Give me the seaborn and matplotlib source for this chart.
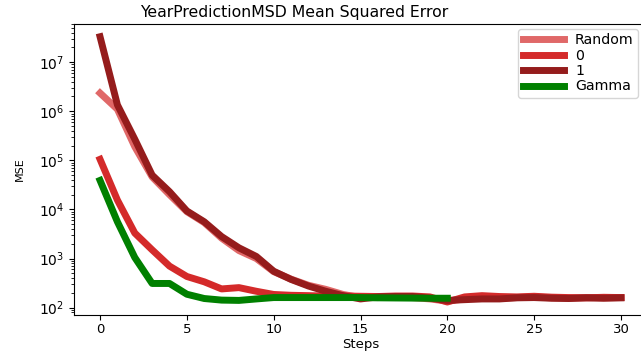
import numpy as np
import pandas as pd
import matplotlib
matplotlib.use("Agg")
import matplotlib.pyplot as plt
import seaborn as sns

steps = list(range(31))
gamma_steps = list(range(21))

random_mse = [2.35e6, 1.1e6, 1.9e5, 4.6e4, 2.0e4, 9.0e3, 5.4e3, 2.6e3, 1.45e3, 1.0e3,
              540, 380, 285, 235, 185, 160, 160, 165, 160, 150,
              135, 150, 160, 155, 160, 165, 158, 155, 160, 158, 160]
zero_mse = [1.05e5, 1.55e4, 3.3e3, 1.5e3, 700, 430, 335, 240, 255, 215,
            185, 178, 175, 172, 172, 170, 168, 172, 172, 165,
            130, 165, 175, 168, 165, 170, 163, 160, 158, 162, 160]
one_mse = [3.3e7, 1.35e6, 2.7e5, 5.0e4, 2.3e4, 9.3e3, 5.6e3, 2.8e3, 1.65e3, 1.1e3,
           550, 375, 275, 215, 175, 150, 165, 168, 168, 155,
           140, 145, 150, 150, 158, 160, 155, 153, 158, 155, 158]
gamma_mse = [3.9e4, 5.6e3, 1.05e3, 310, 310, 187, 153, 142, 140, 150,
             160, 160, 160, 160, 160, 160, 158, 157, 156, 155, 155]

labels = ["Random", "0", "1", "Gamma"]
colors = ["#e06868", "#d42a2a", "#951c1c", "#008000"]

df = pd.concat([
    pd.DataFrame({"Steps": steps, "MSE": random_mse, "init": "Random"}),
    pd.DataFrame({"Steps": steps, "MSE": zero_mse, "init": "0"}),
    pd.DataFrame({"Steps": steps, "MSE": one_mse, "init": "1"}),
    pd.DataFrame({"Steps": gamma_steps, "MSE": gamma_mse, "init": "Gamma"}),
], ignore_index=True)

W, H = 641, 352
fig = plt.figure(figsize=(W/100, H/100), dpi=100)
ax_l, ax_r, ax_t, ax_b = 74, 647, 24, 315
ax = fig.add_axes([ax_l/W, (H-ax_b)/H, (ax_r-ax_l)/W, (ax_b-ax_t)/H])

sns.lineplot(data=df, x="Steps", y="MSE", hue="init", hue_order=labels,
             palette=dict(zip(labels, colors)), linewidth=5, ax=ax, legend=True)

ax.set_yscale("log")
ax.set_xlim(-1.5, 31.5)
ax.set_ylim(70.6, 6.0e7)
ax.set_xticks([0, 5, 10, 15, 20, 25, 30])
ax.tick_params(axis="x", labelsize=9.5, pad=2.5)
ax.tick_params(axis="y", labelsize=10)
ax.set_xlabel("Steps", fontsize=9.5, labelpad=1)
ax.set_ylabel("MSE", fontsize=8, labelpad=10)
ax.set_title("YearPredictionMSD Mean Squared Error", fontsize=11.3,
             x=(294.5-ax_l)/(ax_r-ax_l), pad=5)

ax.legend(loc="upper right", fontsize=10.2, handlelength=2.9,
          labelspacing=0.1, borderaxespad=0.0, borderpad=0.3,
          bbox_to_anchor=((638-ax_l)/(ax_r-ax_l), (ax_b-29)/(ax_b-ax_t)))

fig.savefig("out.png", dpi=100)
